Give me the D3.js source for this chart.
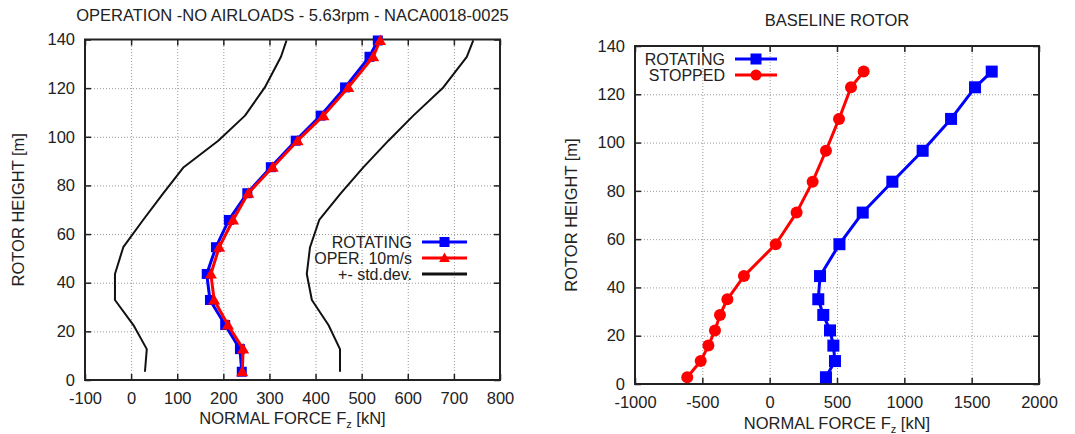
<!DOCTYPE html>
<html>
<head>
<meta charset="utf-8">
<script src="https://d3js.org/d3.v7.min.js"></script>
<style>
  body { margin: 0; background: #fff; }
  text { font-family: "Liberation Sans", Arial, sans-serif; fill: #222; }
  .grid line { stroke: #999; stroke-dasharray: 1,2; }
  .grid path { display: none; }
  .ax path { display: none; }
  .ax line { stroke: #222; stroke-width: 1.5; }
  .ax text { font-size: 16.5px; }
</style>
</head>
<body>
<div id="chart"></div>
<script>
// ---- left chart data (operation, no airloads) ----
var leftHeights = [3.4, 12.7, 22.6, 32.9, 43.6, 54.6, 65.8, 76.8, 87.5, 98.4, 108.7, 120.3, 132.9, 139.6];
var leftRotating = [240, 236, 204, 171, 164, 184, 212, 252, 303, 357, 411, 464, 517, 535];
var leftOper = [241, 243, 210, 180, 173, 191, 221, 254, 307, 361, 417, 471, 525, 540];
var leftStdLow = [30, 34, 5, -35, -35, -17, 26, 70, 114, 189, 247, 290, 325, 337];
var leftStdHigh = [453, 453, 428, 392, 381, 388, 408, 455, 504, 558, 612, 677, 728, 742];
var leftXTicks = [-100, 0, 100, 200, 300, 400, 500, 600, 700, 800];
var leftYTicks = [0, 20, 40, 60, 80, 100, 120, 140];

// ---- right chart data (baseline rotor) ----
var rightHeights = [2.8, 9.5, 15.9, 22.2, 28.6, 35.1, 44.7, 57.9, 71, 83.8, 96.6, 109.8, 122.9, 129.4];
var rightRotating = [418, 485, 473, 448, 398, 361, 374, 518, 691, 911, 1136, 1347, 1525, 1649];
var rightStopped = [-612, -512, -455, -406, -369, -314, -191, 45, 200, 319, 418, 515, 604, 698];
var rightXTicks = [-1000, -500, 0, 500, 1000, 1500, 2000];
var rightYTicks = [0, 20, 40, 60, 80, 100, 120, 140];

var BLUE = "#0000ff", RED = "#ff0000", BLACK = "#111";

var svg = d3.select("#chart").append("svg")
    .attr("width", 1075).attr("height", 434);
svg.append("rect").attr("width", 1075).attr("height", 434).attr("fill", "#fff");

function zip(xs, ys) {
    return xs.map(function(v, i) { return [v, ys[i]]; });
}

function square(g, cx, cy, s, color) {
    g.append("rect").attr("x", cx - s / 2).attr("y", cy - s / 2)
        .attr("width", s).attr("height", s).attr("fill", color);
}
function triangle(g, cx, cy, s, color) {
    g.append("path")
        .attr("d", "M" + cx + "," + (cy - s * 0.6) + "L" + (cx + s * 0.6) + "," + (cy + s * 0.45) +
            "L" + (cx - s * 0.6) + "," + (cy + s * 0.45) + "Z")
        .attr("fill", color);
}
function circle(g, cx, cy, s, color) {
    g.append("circle").attr("cx", cx).attr("cy", cy).attr("r", s / 2).attr("fill", color);
}

// plain hyphen for negatives, like the original plot
function fmt(d) { return String(d); }

// draws frame, grid, ticks and labels; returns the scales
function frame(opt) {
    var x = d3.scaleLinear().domain(opt.xDomain).range(opt.xRange);
    var y = d3.scaleLinear().domain(opt.yDomain).range(opt.yRange);
    var g = svg.append("g");
    var top = opt.yRange[1], bottom = opt.yRange[0], left = opt.xRange[0], right = opt.xRange[1];

    // grid
    g.append("g").attr("class", "grid")
        .attr("transform", "translate(0," + bottom + ")")
        .call(d3.axisBottom(x).tickValues(opt.xTicks.slice(1, -1)).tickSize(-(bottom - top)).tickFormat(""));
    g.append("g").attr("class", "grid")
        .attr("transform", "translate(" + left + ",0)")
        .call(d3.axisLeft(y).tickValues(opt.yTicks.slice(1, -1)).tickSize(-(right - left)).tickFormat(""));

    // axes with inward ticks (mirrored on top/right)
    g.append("g").attr("class", "ax")
        .attr("transform", "translate(0," + bottom + ")")
        .call(d3.axisBottom(x).tickValues(opt.xTicks).tickSizeInner(-6).tickSizeOuter(0).tickPadding(12)
            .tickFormat(fmt));
    g.append("g").attr("class", "ax")
        .attr("transform", "translate(0," + top + ")")
        .call(d3.axisTop(x).tickValues(opt.xTicks).tickSizeInner(-6).tickSizeOuter(0).tickFormat(""));
    g.append("g").attr("class", "ax")
        .attr("transform", "translate(" + left + ",0)")
        .call(d3.axisLeft(y).tickValues(opt.yTicks).tickSizeInner(-6).tickSizeOuter(0).tickPadding(10)
            .tickFormat(fmt));
    g.append("g").attr("class", "ax")
        .attr("transform", "translate(" + right + ",0)")
        .call(d3.axisRight(y).tickValues(opt.yTicks).tickSizeInner(-6).tickSizeOuter(0).tickFormat(""));

    g.append("rect").attr("x", left).attr("y", top)
        .attr("width", right - left).attr("height", bottom - top)
        .attr("fill", "none").attr("stroke", "#222").attr("stroke-width", 2);

    // titles
    var cx = (left + right) / 2;
    g.append("text").attr("x", cx).attr("y", opt.titleY).attr("text-anchor", "middle")
        .style("font-size", "16.5px").text(opt.title);
    var xl = g.append("text").attr("x", cx).attr("y", opt.xLabelY).attr("text-anchor", "middle")
        .style("font-size", "16.5px");
    xl.append("tspan").text("NORMAL FORCE F");
    xl.append("tspan").attr("dy", 4).style("font-size", "11px").text("z");
    xl.append("tspan").attr("dy", -4).text(" [kN]");
    g.append("text")
        .attr("transform", "translate(" + opt.yLabelX + "," + ((top + bottom) / 2) + ") rotate(-90)")
        .attr("text-anchor", "middle").style("font-size", "16.5px").text("ROTOR HEIGHT [m]");

    return { x: x, y: y, g: g };
}

function series(c, xs, ys, color, width, marker, size) {
    var line = d3.line().x(function(d) { return c.x(d[0]); }).y(function(d) { return c.y(d[1]); });
    var pts = zip(xs, ys);
    c.g.append("path").datum(pts).attr("d", line)
        .attr("fill", "none").attr("stroke", color).attr("stroke-width", width)
        .attr("stroke-linejoin", "round");
    if (marker) {
        pts.forEach(function(p) { marker(c.g, c.x(p[0]), c.y(p[1]), size, color); });
    }
}

function legendRow(g, textRight, lineX0, lineX1, yy, label, color, marker, size, fs) {
    g.append("text").attr("x", textRight).attr("y", yy + 6).attr("text-anchor", "end")
        .style("font-size", fs + "px").text(label);
    g.append("line").attr("x1", lineX0).attr("x2", lineX1).attr("y1", yy).attr("y2", yy)
        .attr("stroke", color).attr("stroke-width", 3);
    if (marker) marker(g, (lineX0 + lineX1) / 2, yy, size, color);
}

// ---- left chart ----
var L = frame({
    xDomain: [-100, 800], xRange: [85, 500],
    yDomain: [0, 140], yRange: [380, 39.5],
    xTicks: leftXTicks, yTicks: leftYTicks,
    title: "OPERATION -NO AIRLOADS - 5.63rpm - NACA0018-0025", titleY: 21,
    xLabelY: 424, yLabelX: 24
});
series(L, leftStdLow, leftHeights, BLACK, 2, null);
series(L, leftStdHigh, leftHeights, BLACK, 2, null);
series(L, leftRotating, leftHeights, BLUE, 3, square, 10);
series(L, leftOper, leftHeights, RED, 3, triangle, 10);
legendRow(L.g, 412, 422, 467, 242, "ROTATING", BLUE, square, 10, 16);
legendRow(L.g, 412, 422, 467, 258, "OPER. 10m/s", RED, triangle, 9, 16);
legendRow(L.g, 412, 422, 467, 274, "+- std.dev.", BLACK, null, 0, 16);

// ---- right chart ----
var R = frame({
    xDomain: [-1000, 2000], xRange: [635, 1039],
    yDomain: [0, 140], yRange: [384, 46],
    xTicks: rightXTicks, yTicks: rightYTicks,
    title: "BASELINE ROTOR", titleY: 26,
    xLabelY: 429, yLabelX: 577
});
series(R, rightRotating, rightHeights, BLUE, 3, square, 12);
series(R, rightStopped, rightHeights, RED, 3, circle, 12);
legendRow(R.g, 725, 735, 777, 59, "ROTATING", BLUE, square, 11, 16);
legendRow(R.g, 725, 735, 777, 75, "STOPPED", RED, circle, 11, 16);
</script>
</body>
</html>
